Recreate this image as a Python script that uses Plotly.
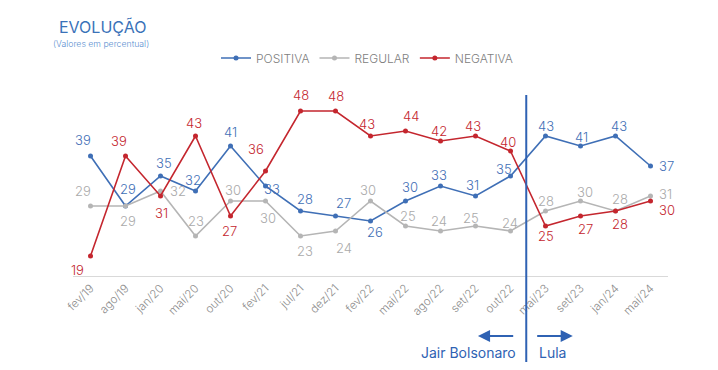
import plotly.graph_objects as go

# ---- data ----
categories = ["fev/19", "ago/19", "jan/20", "mai/20", "out/20", "fev/21", "jul/21", "dez/21",
              "fev/22", "mai/22", "ago/22", "set/22", "out/22", "mai/23", "set/23", "jan/24", "mai/24"]
positiva = [39, 29, 35, 32, 41, 33, 28, 27, 26, 30, 33, 31, 35, 43, 41, 43, 37]
regular = [29, 29, 32, 23, 30, 30, 23, 24, 30, 25, 24, 25, 24, 28, 30, 28, 31]
negativa = [19, 39, 31, 43, 27, 36, 48, 48, 43, 44, 42, 43, 40, 25, 27, 28, 30]

# ---- style ----
FONT = "Inter"
W = 300
C_POS = "#3f6fb6"
C_REG = "#b5b5b5"
C_NEG = "#c4262e"
C_GOV = "#2f62b3"

# label offsets in pixels (dx, dy up)
off_pos = [(-8, 16), (2, 17), (3, 13), (-3, 11), (0, 14), (6, -3), (4, 12), (8, 13), (4, -11),
           (4, 14), (-2, 11), (-3, 11), (-7, 7), (0, 10), (1, 9), (3, 10), (16, 0)]
off_reg = [(-8, 15), (2, -15), (17, 0), (0, 15), (2, 11), (2, -17), (4, -15), (8, -17), (-3, 11),
           (2, 10), (-2, 10), (-5, 8), (-1, 8), (0, 10), (4, 9), (4, 12), (15, 2)]
off_neg = [(-13, -14), (-7, 15), (1, -17), (-2, 13), (-1, -15), (-10, 22), (0, 16), (0, 15), (-4, 12),
           (5, 15), (-2, 10), (-3, 10), (-3, 9), (0, -10), (5, -13), (4, -13), (16, -9)]

fig = go.Figure()
for name, vals, col in [("POSITIVA", positiva, C_POS), ("REGULAR", regular, C_REG), ("NEGATIVA", negativa, C_NEG)]:
    fig.add_trace(go.Scatter(
        x=categories, y=vals, name=name, mode="lines+markers",
        line=dict(color=col, width=1.6), marker=dict(color=col, size=5),
        hoverinfo="skip"))

annotations = []
for vals, offs, col in [(regular, off_reg, "#aaaaaa"), (positiva, off_pos, C_POS), (negativa, off_neg, C_NEG)]:
    for c, v, (dx, dy) in zip(categories, vals, offs):
        annotations.append(dict(x=c, y=v, text=str(v), showarrow=False,
                                xshift=dx, yshift=dy,
                                font=dict(family=FONT, size=13, color=col, weight=W)))

# title / subtitle
annotations.append(dict(x=(56 - 72.5) / 596, y=(276 - 27) / 185, xref="paper", yref="paper",
                        text="EVOLUÇÃO", showarrow=False, xanchor="left", yanchor="middle",
                        font=dict(family=FONT, size=16, color="#3a72b8", weight=400)))
annotations.append(dict(x=(50 - 72.5) / 596, y=(276 - 44) / 185, xref="paper", yref="paper",
                        text="(Valores em percentual)", showarrow=False, xanchor="left", yanchor="middle",
                        font=dict(family=FONT, size=8.7, color="#5c8fd0", weight=W)))

# Government split annotations
ypaper_arrow = (276 - 336) / 185
annotations.append(dict(x=11.07, y=ypaper_arrow, ax=12.12, ay=0, xref="x", yref="paper",
                        axref="x", ayref="pixel", showarrow=True, arrowhead=2, arrowsize=1.1,
                        arrowwidth=2.2, arrowcolor=C_GOV, text=""))
annotations.append(dict(x=13.78, y=ypaper_arrow, ax=12.72, ay=0, xref="x", yref="paper",
                        axref="x", ayref="pixel", showarrow=True, arrowhead=2, arrowsize=1.1,
                        arrowwidth=2.2, arrowcolor=C_GOV, text=""))
annotations.append(dict(x=12.21, y=(276 - 352) / 185, xref="x", yref="paper", text="Jair Bolsonaro",
                        showarrow=False, xanchor="right", yanchor="middle",
                        font=dict(family=FONT, size=14, color=C_GOV, weight=400)))
annotations.append(dict(x=12.75, y=(276 - 352) / 185, xref="x", yref="paper", text="Lula",
                        showarrow=False, xanchor="left", yanchor="middle",
                        font=dict(family=FONT, size=14, color=C_GOV, weight=400)))

fig.add_shape(type="line", x0=12.45, x1=12.45, xref="x", yref="paper",
              y0=(276 - 362) / 185, y1=(276 - 95) / 185,
              line=dict(color=C_GOV, width=2))

fig.update_layout(
    width=718, height=370,
    margin=dict(l=72.5, r=49.5, t=91, b=94),
    paper_bgcolor="white", plot_bgcolor="white",
    font=dict(family=FONT, color="#808080", weight=W),
    showlegend=True,
    legend=dict(orientation="h", x=(367 - 72.5) / 596, xanchor="center", y=(276 - 58) / 185,
                yanchor="middle", font=dict(family=FONT, size=12, color="#808080", weight=W),
                itemwidth=30, tracegroupgap=0),
    annotations=annotations,
    xaxis=dict(type="category", range=[-0.5, 16.5], showline=True, linecolor="#d9d9d9", linewidth=1,
               showgrid=False, zeroline=False, ticks="", tickangle=-45,
               tickfont=dict(family=FONT, size=11.5, color="#8c8c8c", weight=W)),
    yaxis=dict(range=[15, 52], showticklabels=False, showgrid=False, zeroline=False, showline=False),
)

fig.write_html("out.html", post_script="document.body.style.margin='0';",
               config={"displayModeBar": False})
